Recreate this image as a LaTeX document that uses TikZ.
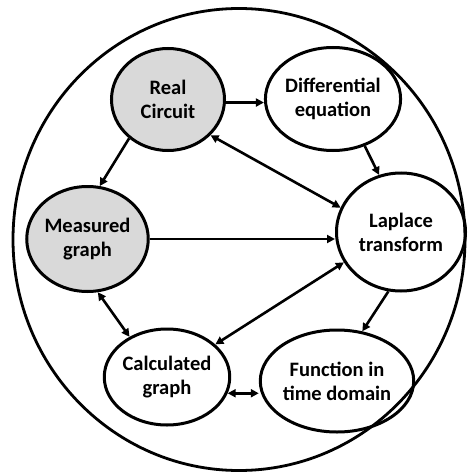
\documentclass[tikz,border=0pt]{standalone}
\usepackage{fontspec}
\setmainfont{Carlito}
\usepackage{xcolor}
\usetikzlibrary{positioning,arrows.meta,shapes.geometric}
\definecolor{measured}{HTML}{D9D9D9}

\begin{document}
\begin{tikzpicture}[x=1pt, y=-1pt,
  stage/.style={draw, ellipse, line width=3pt, inner sep=0pt, align=center,
    font=\fontsize{20.5}{24}\selectfont\bfseries},
  link/.style={line width=2.6pt, -{Triangle[length=8pt,width=8pt]}},
  both/.style={line width=2.6pt, {Triangle[length=8pt,width=8pt]}-{Triangle[length=8pt,width=8pt]}}]
\useasboundingbox (0,0) rectangle (467,473);
\draw[line width=2.8pt] (239,239.5) ellipse [x radius=226, y radius=231];
\node[stage, fill=measured, minimum width=113pt, minimum height=102pt] (rc) at (168,99.5) {Real\\Circuit};
\node[stage, minimum width=113pt, minimum height=103pt] (de) at (333,99) {Differential\\equation};
\node[stage, fill=measured, minimum width=111pt, minimum height=105pt] (mg) at (87.5,239) {Measured\\graph};
\node[stage, minimum width=129pt, minimum height=118pt] (lt) at (401,232) {Laplace\\transform};
\node[stage, minimum width=103pt, minimum height=96pt] (cg) at (167,377) {Calculated\\graph};
\node[stage, minimum width=117pt, minimum height=102pt] (fd) at (337,381) {Function in\\time domain};
\draw[link] (rc.-3) -- (rc.-3 -| de.west);
\draw[link] (de.-56) -- (lt.111);
\draw[both] (rc.-40) -- (lt.158);
\draw[link] (rc.-135) -- (mg.77);
\draw[link] (mg.east) -- (mg.east -| lt.west);
\draw[both] (mg.-79) -- (cg.133);
\draw[both] (lt.-152) -- (cg.34);
\draw[link] (lt.-102) -- (fd.63);
\draw[both] (cg.-15) -- (cg.-15 -| fd.west);
\end{tikzpicture}
\end{document}
